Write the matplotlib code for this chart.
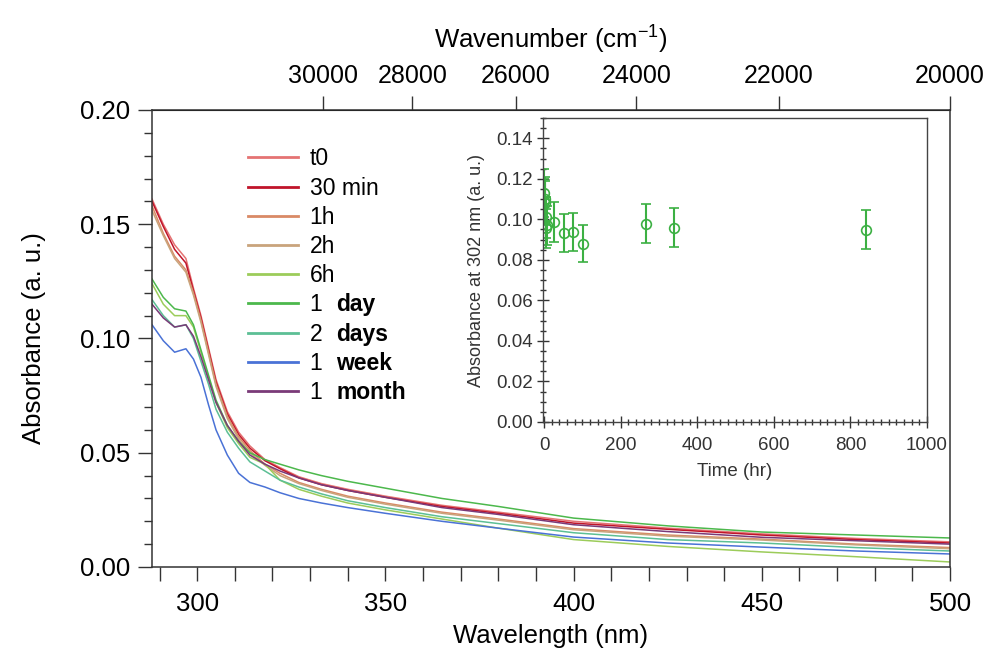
import matplotlib.pyplot as plt
from matplotlib.ticker import MultipleLocator, FixedLocator
import numpy as np

plt.rcParams['font.family'] = ['Liberation Sans', 'DejaVu Sans']
plt.rcParams['mathtext.fontset'] = 'custom'
plt.rcParams['mathtext.rm'] = 'Liberation Sans'

# wavelength grid (nm)
wl = [288, 291, 294, 297, 299, 301, 303, 305, 308, 311, 314, 318, 322, 327,
      333, 340, 350, 365, 380, 400, 425, 450, 475, 500]

t0 = [0.161, 0.150, 0.141, 0.135, 0.122, 0.110, 0.096, 0.082, 0.068, 0.059, 0.053,
      0.047, 0.0435, 0.0395, 0.0365, 0.034, 0.031, 0.027, 0.024, 0.020, 0.017,
      0.0145, 0.0125, 0.011]
min30 = [0.160, 0.149, 0.139, 0.133, 0.121, 0.109, 0.095, 0.081, 0.067, 0.058, 0.052,
         0.0465, 0.043, 0.039, 0.036, 0.0335, 0.0305, 0.0265, 0.0235, 0.0192,
         0.0165, 0.014, 0.012, 0.0105]
h1 = [0.158, 0.146, 0.136, 0.130, 0.120, 0.108, 0.094, 0.080, 0.066, 0.057, 0.051,
      0.045, 0.041, 0.037, 0.034, 0.031, 0.028, 0.024, 0.021, 0.0168, 0.014,
      0.0122, 0.010, 0.0085]
h2 = [0.156, 0.145, 0.135, 0.129, 0.119, 0.107, 0.093, 0.079, 0.065, 0.056, 0.050,
      0.0445, 0.040, 0.0365, 0.0335, 0.0305, 0.0275, 0.0235, 0.0205, 0.0163,
      0.0135, 0.0118, 0.0097, 0.008]
h6 = [0.124, 0.115, 0.110, 0.110, 0.105, 0.094, 0.083, 0.072, 0.061, 0.054, 0.048,
      0.045, 0.038, 0.034, 0.031, 0.028, 0.025, 0.021, 0.017, 0.012, 0.009,
      0.0066, 0.0045, 0.0022]
day1 = [0.126, 0.118, 0.113, 0.112, 0.106, 0.095, 0.084, 0.073, 0.062, 0.055, 0.050,
        0.047, 0.045, 0.0425, 0.040, 0.0375, 0.0345, 0.030, 0.0265, 0.0214, 0.018,
        0.0153, 0.014, 0.0127]
day2 = [0.117, 0.110, 0.105, 0.106, 0.100, 0.090, 0.080, 0.069, 0.059, 0.052, 0.046,
        0.042, 0.038, 0.035, 0.032, 0.029, 0.026, 0.022, 0.019, 0.015, 0.012,
        0.0105, 0.0085, 0.007]
week1 = [0.106, 0.099, 0.094, 0.0955, 0.091, 0.083, 0.071, 0.060, 0.049, 0.041, 0.037,
         0.035, 0.0325, 0.030, 0.028, 0.026, 0.0235, 0.020, 0.017, 0.0131, 0.0105,
         0.0087, 0.007, 0.0057]
month1 = [0.115, 0.109, 0.105, 0.106, 0.101, 0.092, 0.082, 0.072, 0.062, 0.055, 0.049,
          0.045, 0.042, 0.039, 0.036, 0.0335, 0.0305, 0.026, 0.023, 0.0185, 0.0155,
          0.013, 0.0115, 0.010]

series = [t0, min30, h1, h2, h6, day1, day2, week1, month1]
labels = ['t0', '30 min', '1h', '2h', '6h', '1', '2', '1', '1']
bold_units = ['', '', '', '', '', 'day', 'days', 'week', 'month']
colors = ['#e57373', '#c0142a', '#d98a66', '#c9a47c', '#9ccc5a',
          '#4cb84c', '#5cbf95', '#4a72d6', '#7a3a78']

# inset: absorbance at 302 nm vs time
time_hr = [0, 0.5, 1, 2, 4, 6, 8, 25, 51, 75, 101, 265, 338, 840]
abs302 = [0.109, 0.113, 0.110, 0.108, 0.101, 0.0955, 0.097, 0.0987, 0.0933,
          0.0938, 0.088, 0.0979, 0.0959, 0.0949]
abs_err = [0.011, 0.012, 0.011, 0.011, 0.010, 0.0095, 0.0097, 0.0099, 0.0095,
           0.0095, 0.009, 0.0097, 0.0097, 0.0096]

wn_ticks = [30000, 28000, 26000, 24000, 22000, 20000]

fig = plt.figure(figsize=(9.95, 6.63), dpi=100)
ax = fig.add_axes([0.1528, 0.1448, 0.8020, 0.6893])

for y, lab, c in zip(series, labels, colors):
    ax.plot(wl, y, color=c, lw=1.1, label=lab)

ax.set_xlim(288, 500)
ax.set_ylim(0, 0.20)
ax.xaxis.set_major_locator(MultipleLocator(50))
ax.xaxis.set_minor_locator(MultipleLocator(10))
ax.yaxis.set_major_locator(MultipleLocator(0.05))
ax.yaxis.set_minor_locator(MultipleLocator(0.01))
ax.yaxis.set_major_formatter(plt.FormatStrFormatter('%.2f'))
ax.tick_params(axis='both', which='major', direction='out', length=10, width=1,
               labelsize=18.5, color='#333333')
ax.tick_params(axis='y', which='minor', direction='out', length=6, width=1, color='#333333')
ax.tick_params(axis='x', which='minor', direction='out', length=10, width=1, color='#333333')
ax.tick_params(axis='x', which='major', pad=8)
ax.tick_params(axis='y', which='major', pad=6)
for s in ax.spines.values():
    s.set_color('#333333')
    s.set_linewidth(1.1)
ax.set_xlabel('Wavelength (nm)', fontsize=18.5, labelpad=6)
ax.set_ylabel('Absorbance (a. u.)', fontsize=18.5, labelpad=24)

top = ax.secondary_xaxis('top', functions=(lambda x: 1e7 / np.asarray(x, float),
                                           lambda k: 1e7 / np.asarray(k, float)))
top.xaxis.set_major_locator(FixedLocator(wn_ticks))
top.tick_params(direction='out', length=10, width=1, labelsize=18, color='#333333', pad=6)
top.set_xlabel(r'Wavenumber (cm$^{-1}$)', fontsize=18.5, labelpad=12)

leg = ax.legend(loc='upper left', bbox_to_anchor=(0.12, 0.918), frameon=False,
                fontsize=16.5, handlelength=2.2, handletextpad=0.5,
                labelspacing=0.27, borderpad=0, borderaxespad=0)
for line in leg.get_lines():
    line.set_linewidth(2)

ins = fig.add_axes([0.5457, 0.3635, 0.3860, 0.4585])
ins.errorbar(time_hr, abs302, yerr=abs_err, fmt='o', mfc='none', mec='#3cb043',
             ecolor='#3cb043', color='#3cb043', ms=7, mew=1.2, elinewidth=1.5,
             capsize=3.5, capthick=1.5)
ins.set_xlim(-3, 1000)
ins.set_ylim(0, 0.15)
ins.xaxis.set_major_locator(MultipleLocator(200))
ins.xaxis.set_minor_locator(MultipleLocator(20))
ins.yaxis.set_major_locator(MultipleLocator(0.02))
ins.yaxis.set_minor_locator(MultipleLocator(0.005))
ins.yaxis.set_major_formatter(plt.FormatStrFormatter('%.2f'))
ins.tick_params(which='major', direction='inout', length=8, width=1, labelsize=13.5,
                color='#333333', labelcolor='#333333')
ins.tick_params(which='minor', direction='inout', length=4, width=1, color='#333333')
ins.tick_params(axis='x', which='major', pad=7)
for s in ins.spines.values():
    s.set_color('#444444')
    s.set_linewidth(1.0)
ins.set_xlabel('Time (hr)', fontsize=13.5, color='#333333', labelpad=6)
ins.set_ylabel('Absorbance at 302 nm (a. u.)', fontsize=13, color='#333333', labelpad=8)

# bold unit words after the numbers in the legend
fig.canvas.draw()
inv = fig.transFigure.inverted()
for txt, unit in zip(leg.get_texts(), bold_units):
    if not unit:
        continue
    bb = txt.get_window_extent()
    x0, y0 = inv.transform((bb.x1 + 14, bb.y0))
    fig.text(x0, y0, unit, fontsize=16.5, fontweight='bold', va='bottom', ha='left')

fig.savefig('out.png', dpi=100)
